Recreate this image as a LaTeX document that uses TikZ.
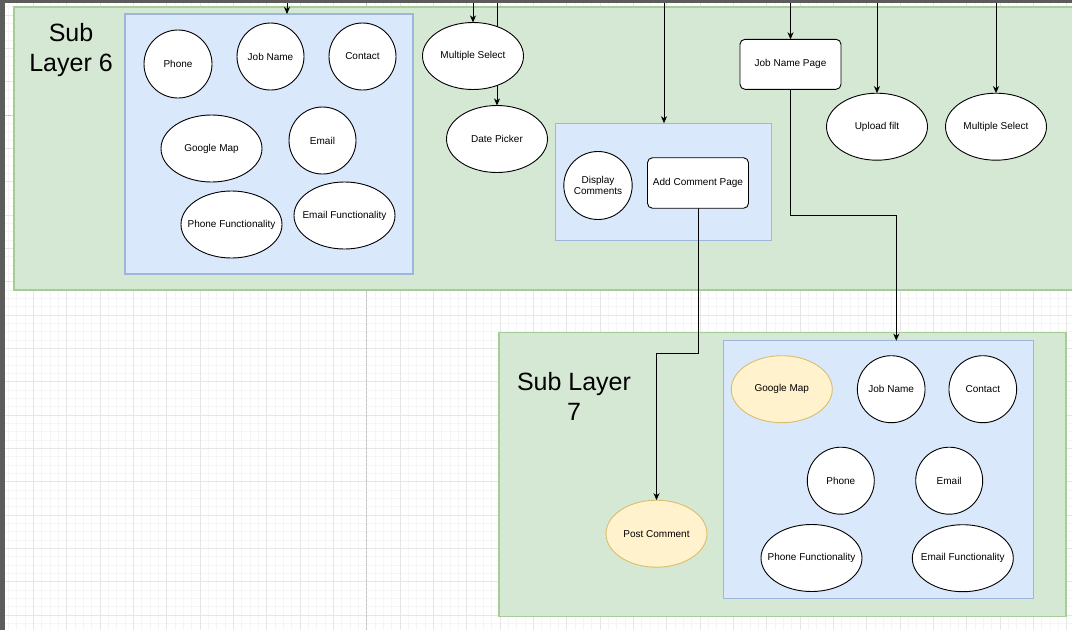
\documentclass[tikz,border=0pt]{standalone}
\usepackage{fontspec}
\setmainfont{Liberation Sans}
\usetikzlibrary{shapes.geometric,arrows.meta}

\definecolor{gridminor}{HTML}{F5F5F5}
\definecolor{gridmajor}{HTML}{E6E6E6}
\definecolor{pagebreak}{HTML}{C4C4C4}
\definecolor{greenfill}{HTML}{D5E8D4}
\definecolor{greenline}{HTML}{A8CC98}
\definecolor{bluefill}{HTML}{DAE8FC}
\definecolor{blueline}{HTML}{9DB6DC}
\definecolor{yellowfill}{HTML}{FFF2CC}
\definecolor{yellowline}{HTML}{D9BE6C}
\definecolor{framegray}{HTML}{5C5C5C}

\pgfdeclarelayer{bg}
\pgfdeclarelayer{wires}
\pgfsetlayers{bg,wires,main}

% zero-width label so that an ellipse keeps its given size
\newcommand{\zw}[1]{\makebox[0pt][c]{#1}}

\tikzset{
  greenbox/.style={rectangle, draw=greenline, fill=greenfill, line width=1.1pt,
    anchor=north west, inner sep=0pt, outer sep=0pt},
  bluebox/.style={rectangle, draw=blueline, fill=bluefill, line width=1.1pt,
    anchor=north west, inner sep=0pt, outer sep=0pt},
  bubble/.style={ellipse, draw=black, fill=white, line width=0.9pt,
    inner sep=0pt, outer sep=0pt, font=\fontsize{10}{11.7}\selectfont, align=center},
  round/.style={bubble, minimum width=67pt, minimum height=67pt},
  oval/.style={bubble, minimum width=101pt, minimum height=67pt},
  hilite/.style={fill=yellowfill, draw=yellowline},
  pagebox/.style={rectangle, rounded corners=5pt, draw=black, fill=white, line width=0.9pt,
    minimum width=101pt, minimum height=50pt, inner sep=0pt, outer sep=0pt,
    font=\fontsize{10}{11.7}\selectfont},
  layertitle/.style={font=\fontsize{25}{29.5}\selectfont, align=center, inner sep=0pt},
  arr/.style={draw=black, line width=1pt, -{Stealth[length=7pt,width=6pt,inset=2pt]}},
}

\begin{document}
\begin{tikzpicture}[x=1pt,y=-1pt]
\useasboundingbox (0,0) rectangle (1072,630);

% ---------- canvas: grid and page breaks ----------
\begin{pgfonlayer}{bg}
  \fill[white] (0,0) rectangle (1072,630);
  \foreach \i in {0,...,129}
    \draw[gridminor, line width=0.6pt] ({\i*8.3333},3) -- ({\i*8.3333},630);
  \foreach \j in {0,...,75}
    \draw[gridminor, line width=0.6pt] (0,{6.6667+\j*8.3333}) -- (1072,{6.6667+\j*8.3333});
  \foreach \i in {0,...,32}
    \draw[gridmajor, line width=0.7pt] ({\i*33.3333},3) -- ({\i*33.3333},630);
  \foreach \j in {0,...,18}
    \draw[gridmajor, line width=0.7pt] (0,{15+\j*33.3333}) -- (1072,{15+\j*33.3333});
  \draw[pagebreak, line width=0.8pt, dash pattern=on 2.5pt off 1.5pt] (366.7,3) -- (366.7,630);
  \draw[pagebreak, line width=0.8pt, dash pattern=on 2.5pt off 1.5pt] (0,115) -- (1072,115);

  % ---------- containers ----------
  \node[greenbox, minimum width=1070pt, minimum height=283pt] (g6) at (14,7) {};
  \node[bluebox, minimum width=288pt, minimum height=260pt] (b6) at (125,14) {};
  \node[bluebox, minimum width=216pt, minimum height=117.4pt] (b6c) at (555.7,123.3) {};
  \node[greenbox, minimum width=567pt, minimum height=284.4pt] (g7) at (499,332.3) {};
  \node[bluebox, minimum width=310pt, minimum height=258pt] (b7) at (723.3,340.7) {};

  \node[layertitle] (t6) at (71,50) {Sub\\Layer 6};
  \node[layertitle] (t7) at (574,396.5) {Sub Layer\\7};
\end{pgfonlayer}

% ---------- Sub Layer 6 ----------
\node[round, minimum width=68pt, minimum height=68pt] (s6phone) at (178,64) {Phone};
\node[round] (s6job) at (270.5,56.5) {Job Name};
\node[round] (s6contact) at (362.5,56.5) {Contact};
\node[oval] (s6map) at (211.5,148.5) {\zw{Google Map}};
\node[round] (s6email) at (322.5,140.5) {Email};
\node[oval] (s6phonefn) at (231.5,224.5) {\zw{Phone Functionality}};
\node[oval] (s6emailfn) at (344.5,215.5) {\zw{Email Functionality}};

\node[oval] (msel) at (473,56) {\zw{Multiple Select}};
\node[oval] (date) at (497,139) {\zw{Date Picker}};
\node[round, minimum width=68pt, minimum height=68pt] (dispc) at (598,185.5) {Display\\Comments};
\node[pagebox, minimum height=50.5pt] (addc) at (698,183) {Add Comment Page};
\node[pagebox] (jobpage) at (790.5,64.3) {Job Name Page};
\node[oval] (upload) at (877,126.7) {\zw{Upload filt}};
\node[oval] (mselb) at (996,126.7) {\zw{Multiple Select}};

% ---------- Sub Layer 7 ----------
\node[oval, hilite] (post) at (656.5,533.7) {\zw{Post Comment}};
\node[oval, hilite] (s7map) at (781.8,389.2) {\zw{Google Map}};
\node[round, minimum width=67.7pt, minimum height=67pt] (s7job) at (891.2,389.2) {\zw{Job Name}};
\node[round, minimum width=67.7pt, minimum height=67pt] (s7contact) at (982.8,389.2) {\zw{Contact}};
\node[round] (s7phone) at (840.8,480.7) {Phone};
\node[round] (s7email) at (949.2,480.7) {Email};
\node[oval] (s7phonefn) at (811.5,558) {\zw{Phone Functionality}};
\node[oval] (s7emailfn) at (962.8,558.2) {\zw{Email Functionality}};

% ---------- connectors ----------
\coordinate (top) at (0,0);
\coordinate (in6) at (287,0);
\coordinate (inmsel) at (msel.north |- top);
\coordinate (indate) at (date.north |- top);
\coordinate (in6c) at (664,0);
\coordinate (injob) at (jobpage.north |- top);
\coordinate (inup) at (upload.north |- top);
\coordinate (inmselb) at (mselb.north |- top);
\coordinate (b7in) at ([xshift=173pt]b7.north west);

\begin{pgfonlayer}{wires}
  \draw[arr] (in6) -- (in6 |- b6.north);
  \draw[arr] (inmsel) -- (msel.north);
  \draw[arr] (indate) -- (date.north);
  \draw[arr] (in6c) -- (in6c |- b6c.north);
  \draw[arr] (injob) -- (jobpage.north);
  \draw[arr] (inup) -- (upload.north);
  \draw[arr] (inmselb) -- (mselb.north);
  \draw[arr] (addc.south) -- ++(0,145.7) -| (post.north);
  \draw[arr] (jobpage.south) -- ++(0,126.4) -| (b7in);
\end{pgfonlayer}

% ---------- window frame ----------
\fill[framegray] (0,0) rectangle (4.7,630);
\fill[framegray] (0,0) rectangle (1072,3.3);
\end{tikzpicture}
\end{document}
